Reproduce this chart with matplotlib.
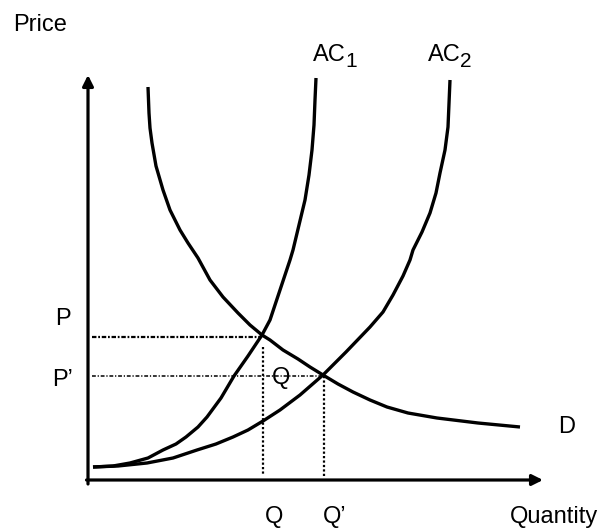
import matplotlib
matplotlib.use("Agg")
import matplotlib.pyplot as plt

plt.rcParams['font.family'] = ['Liberation Sans', 'DejaVu Sans']

# Curves (quantity, price) in picture units from the origin
d_q = [60, 61, 62, 64, 68, 75, 82, 92, 100, 110, 122, 135, 150, 162, 174, 182, 195, 210, 222, 235,
       250, 265, 282, 299, 320, 349, 390, 432]
d_p = [393, 367, 352, 337, 314, 290, 270, 250, 237, 222, 200, 183, 167, 155, 145, 140, 130, 121, 113, 105,
       96, 88, 80, 73, 67, 62, 57, 53]

ac1_q = [5, 25, 42, 60, 75, 88, 98, 110, 119, 133, 146, 160, 174, 182, 192, 202, 205, 211, 217, 221, 224,
         226, 227, 228]
ac1_p = [13, 14, 17, 22, 30, 36, 43, 53, 63, 82, 104, 124, 145, 160, 190, 220, 230, 255, 280, 305, 330,
         355, 380, 402]

ac2_q = [5, 30, 59, 85, 109, 128, 145, 160, 175, 192, 212, 235, 258, 282, 295, 305, 315, 322, 325, 334,
         342, 348, 352, 357, 360, 362]
ac2_p = [13, 14, 17, 22, 30, 36, 43, 50, 59, 70, 85, 105, 128, 153, 168, 185, 204, 220, 230, 248,
         267, 287, 307, 330, 353, 400]

P_level = 143
P2_level = 104
Q_level = 175
Q2_level = 236

fig = plt.figure(figsize=(6.08, 5.30), dpi=100)
ax = fig.add_axes([0, 0, 1, 1])
ax.set_xlim(-88, 520)
ax.set_ylim(-50, 480)
ax.axis('off')

# axes with arrows
ax.annotate('', xy=(0, 405), xytext=(0, -4),
            arrowprops=dict(arrowstyle='-|>', lw=2.3, color='black', mutation_scale=16,
                            shrinkA=0, shrinkB=0))
ax.annotate('', xy=(455, 0), xytext=(-1.5, 0),
            arrowprops=dict(arrowstyle='-|>', lw=2.3, color='black', mutation_scale=16,
                            shrinkA=0, shrinkB=0))

# guide lines
ax.plot([4, Q_level - 1], [P_level, P_level], color='black', lw=1.6,
        linestyle=(0, (2.0, 0.8, 0.8, 0.8)))
ax.plot([4, Q2_level], [P2_level, P2_level], color='black', lw=1.1,
        linestyle=(0, (2.5, 1.2, 0.8, 1.2)))
ax.plot([Q_level, Q_level], [P_level - 10, 5], color='black', lw=1.6, linestyle=(0, (1, 1)))
ax.plot([Q2_level, Q2_level], [P2_level, 3], color='black', lw=1.6, linestyle=(0, (1, 1)))

# curves
for xs, ys in [(d_q, d_p), (ac1_q, ac1_p), (ac2_q, ac2_p)]:
    ax.plot(xs, ys, color='black', lw=2.4, solid_capstyle='butt', solid_joinstyle='round')

fs = 17
kw = dict(fontsize=fs, color='black', va='baseline', ha='left')
ax.text(-75, 449, 'Price', **kw)
ax.text(225, 419, 'AC', **kw)
ax.text(257, 413, '1', fontsize=fs - 2, color='black', va='baseline', ha='left')
ax.text(340, 419, 'AC', **kw)
ax.text(372, 413, '2', fontsize=fs - 2, color='black', va='baseline', ha='left')
ax.text(-33, 155, 'P', **kw)
ax.text(-36, 94, 'P\u2019', **kw)
ax.text(470, 47, 'D', **kw)
ax.text(184, 96, 'Q', **kw)
ax.text(177, -43, 'Q', **kw)
ax.text(235, -43, 'Q\u2019', **kw)
ax.text(422, -43, 'Quantity', **kw)

fig.savefig('out.png', dpi=100)
